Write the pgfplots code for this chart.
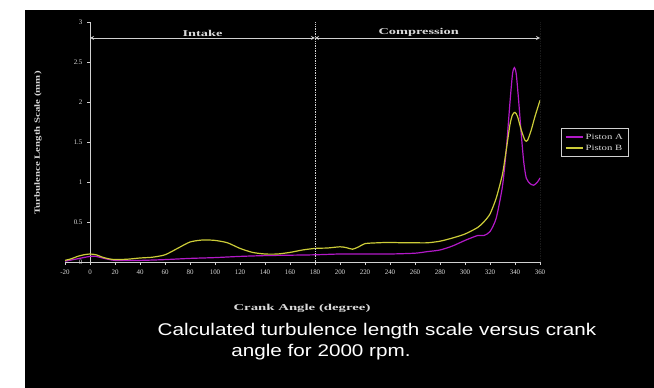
\documentclass[border=0pt]{standalone}
\usepackage{pgfplots}
\pgfplotsset{compat=1.18}
\usepackage{graphicx}
\usepackage{fontspec}
\setmainfont{Liberation Serif}
\newfontfamily\capfont{Liberation Sans}
\definecolor{axgray}{rgb}{0.82,0.82,0.82}
\definecolor{txtgray}{rgb}{0.85,0.85,0.85}
\definecolor{pmag}{rgb}{0.70,0.10,0.78}
\definecolor{pyel}{rgb}{0.80,0.80,0.22}
\begin{document}
\begin{tikzpicture}
\useasboundingbox (0,0) rectangle (654bp,388bp);
\fill[white] (0,0) rectangle (654bp,388bp);
\fill[black] (25bp,0) rectangle (654bp,378bp);
\begin{axis}[
  at={(65bp,126bp)}, anchor=south west,
  scale only axis, width=475bp, height=240bp,
  xmin=-20, xmax=360, ymin=0, ymax=3,
  axis x line=bottom, axis y line=middle,
  hide obscured x ticks=false, hide obscured y ticks=false,
  axis line style={-, draw=axgray, line width=0.8pt},
  xtick={-20,0,...,360}, ytick={0,0.5,...,3},
  tick align=outside, major tick length=3bp,
  tick style={axgray, line width=0.6pt},
  ticklabel style={font=\fontsize{7}{8}\selectfont, text=txtgray},
  /pgf/number format/assume math mode=true,
  xticklabel style={yshift=-1bp},
  yticklabel style={xshift=-1bp},
  legend style={at={(rel axis cs:1.045,0.555)}, anchor=north west,
    fill=black, draw=none, text=txtgray, name=leg,
    font=\fontsize{8}{9}\selectfont, row sep=0pt, inner sep=3pt},
  legend cell align=left,
  legend image code/.code={\draw[#1, line width=2pt] (0cm,0cm) -- (0.6cm,0cm);},
]
\addplot[color=pmag, line width=1.2bp, smooth, tension=0.4] coordinates {
(-20,0.01) (-10,0.04) (0,0.07) (5,0.07) (10,0.05) (20,0.02) (40,0.02) (60,0.03)
(80,0.045) (100,0.055) (120,0.07) (140,0.08) (160,0.085) (180,0.09) (200,0.10)
(220,0.10) (240,0.10) (260,0.11) (270,0.13) (280,0.15) (290,0.20) (300,0.27)
(310,0.33) (315,0.33) (320,0.38) (325,0.55) (330,0.95) (333,1.40) (336,2.00)
(338,2.35) (339.5,2.43) (341,2.35) (343,2.00) (345,1.60) (347,1.25) (349,1.05)
(352,0.98) (355,0.96) (358,1.00) (360,1.05)
};
\addlegendentry{\scalebox{1.35}[1]{Piston A}}
\addplot[color=pyel, line width=1.2bp, smooth, tension=0.4] coordinates {
(-20,0.02) (-15,0.04) (-10,0.07) (-5,0.09) (0,0.10) (5,0.09) (10,0.06) (15,0.04)
(20,0.03) (30,0.035) (40,0.05) (50,0.06) (60,0.09) (70,0.17) (80,0.25) (90,0.275)
(100,0.27) (110,0.24) (120,0.17) (130,0.12) (140,0.10) (150,0.10) (160,0.12)
(170,0.15) (180,0.17) (190,0.175) (200,0.19) (205,0.18) (210,0.16) (215,0.19)
(220,0.23) (230,0.24) (240,0.245) (250,0.24) (260,0.24) (270,0.24) (280,0.26)
(290,0.30) (300,0.35) (310,0.43) (315,0.50) (320,0.60) (325,0.80) (330,1.10)
(333,1.40) (336,1.72) (338,1.84) (340,1.87) (342,1.82) (345,1.65) (348,1.52)
(350,1.52) (353,1.65) (356,1.82) (360,2.02)
};
\addlegendentry{\scalebox{1.35}[1]{Piston B}}
\draw[axgray, densely dotted, line width=0.7pt] (axis cs:180,0) -- (axis cs:180,3);
\draw[axgray, densely dotted, line width=0.7pt] (axis cs:360,0) -- (axis cs:360,3);
\draw[axgray, line width=0.8pt, <->, >=stealth] (axis cs:0,2.8) -- (axis cs:180,2.8);
\draw[axgray, line width=0.8pt, <->, >=stealth] (axis cs:180,2.8) -- (axis cs:360,2.8);
\node[text=txtgray, anchor=south, inner sep=1pt] at (axis cs:90,2.8) {\bfseries\fontsize{9}{10}\selectfont\scalebox{1.6}[1]{Intake}};
\node[text=txtgray, anchor=south, inner sep=1pt] at (axis cs:263,2.8) {\bfseries\fontsize{9}{10}\selectfont\scalebox{1.6}[1]{Compression}};
\end{axis}
\draw[axgray, line width=0.7pt] (leg.south west) rectangle (leg.north east);
\node[text=txtgray] at (302bp,80bp) {\bfseries\fontsize{9}{10}\selectfont\scalebox{1.65}[1]{Crank Angle (degree)}};
\node[text=txtgray, rotate=90] at (38bp,245bp) {\bfseries\fontsize{8}{9}\selectfont\scalebox{1.36}[1]{Turbulence Length Scale (mm)}};
\node[text=white] at (377bp,57bp) {\capfont\fontsize{17}{19}\selectfont\scalebox{1.22}[1]{Calculated turbulence length scale versus crank}};
\node[text=white] at (321bp,36bp) {\capfont\fontsize{17}{19}\selectfont\scalebox{1.22}[1]{angle for 2000 rpm.}};
\end{tikzpicture}
\end{document}
